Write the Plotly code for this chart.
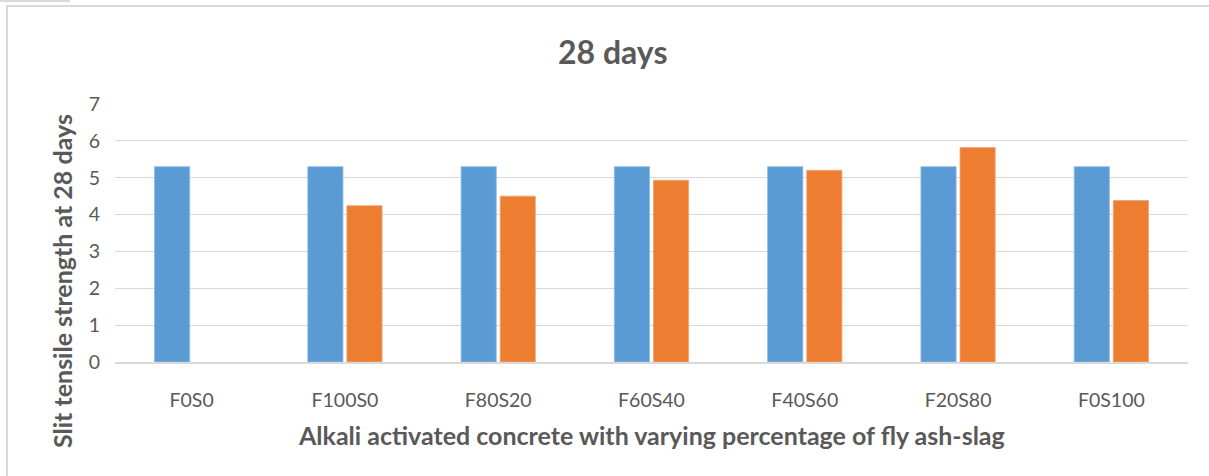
import plotly.graph_objects as go

# Dados
mixes = ['F0S0', 'F100S0', 'F80S20', 'F60S40', 'F40S60', 'F20S80', 'F0S100']
reference = [5.3, 5.3, 5.3, 5.3, 5.3, 5.3, 5.3]
tensile_28d = [None, 4.24, 4.5, 4.93, 5.2, 5.82, 4.38]
y_ticks = [0, 1, 2, 3, 4, 5, 6, 7]

TEXT = '#595959'
GRID = '#D9D9D9'
FONT = 'Lato, Roboto, sans-serif'

# margens em pixels (área de plotagem 115..1188 x 104..362)
ML, MR, MT, MB = 115, 21, 104, 114
W, H = 1209, 476
PW, PH = W - ML - MR, H - MT - MB


def px_x(px):
    return (px - ML) / PW


def px_y(py):
    return (H - MB - py) / PH


fig = go.Figure()

fig.add_trace(go.Bar(x=mixes, y=reference, name='Reference',
                     marker=dict(color='#5B9BD5', line=dict(color='#8DB9E4', width=0.8))))
fig.add_trace(go.Bar(x=mixes, y=tensile_28d, name='28 days',
                     marker=dict(color='#ED7D31', line=dict(color='#F2A571', width=0.8))))

fig.update_layout(
    width=W, height=H,
    margin=dict(l=ML, r=MR, t=MT, b=MB),
    paper_bgcolor='white', plot_bgcolor='white',
    showlegend=False,
    barmode='group', bargap=0.49, bargroupgap=0.1,
    font=dict(family=FONT, color=TEXT, size=17),
)

fig.update_xaxes(showgrid=False, showline=True, linecolor=GRID, linewidth=1.5,
                 ticks='', ticklabelstandoff=20, tickfont=dict(size=19.5, color=TEXT))
fig.update_yaxes(range=[0, 7], tickvals=y_ticks, showgrid=True, gridcolor=GRID, gridwidth=1.3,
                 zeroline=False, showline=False, ticks='', ticklabelstandoff=14,
                 tickfont=dict(size=19.5, color=TEXT))

# título e títulos dos eixos
fig.add_annotation(text='<b>28 days</b>', xref='paper', yref='paper',
                   x=px_x(612), y=px_y(51), showarrow=False,
                   xanchor='center', yanchor='middle',
                   font=dict(family=FONT, size=32, color=TEXT))
fig.add_annotation(text='<b>Alkali activated concrete with varying percentage of fly ash-slag</b>',
                   xref='paper', yref='paper', x=px_x(651), y=px_y(435),
                   showarrow=False, xanchor='center', yanchor='middle',
                   font=dict(family=FONT, size=25, color=TEXT))
fig.add_annotation(text='<b>Slit tensile strength at 28 days</b>', textangle=-90,
                   xref='paper', yref='paper', x=px_x(62), y=px_y(281),
                   showarrow=False, xanchor='center', yanchor='middle',
                   font=dict(family=FONT, size=25, color=TEXT))

# moldura do gráfico
fig.add_shape(type='rect', xref='paper', yref='paper',
              x0=px_x(7), x1=px_x(1230), y0=px_y(500), y1=px_y(6),
              line=dict(color=GRID, width=2), fillcolor='rgba(0,0,0,0)', layer='below')
fig.add_shape(type='line', xref='paper', yref='paper',
              x0=px_x(0), x1=px_x(70), y0=px_y(1), y1=px_y(1),
              line=dict(color=GRID, width=2))

fig.write_html("out.html", config={'displayModeBar': False},
               post_script="document.body.style.margin='0';")
